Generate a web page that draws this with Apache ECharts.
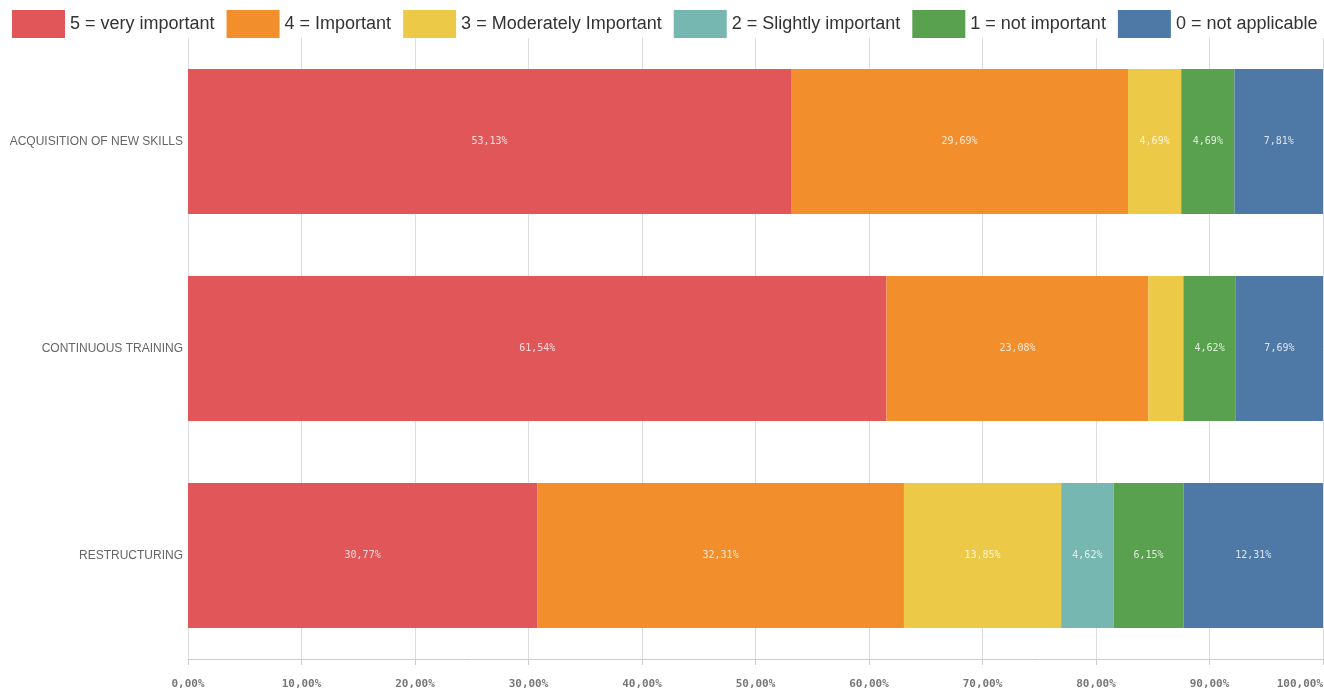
<!DOCTYPE html>
<html><head><meta charset="utf-8">
<script src="https://cdn.jsdelivr.net/npm/echarts@6/dist/echarts.min.js"></script>
<style>html,body{margin:0;padding:0;background:#fff}#c{width:1324px;height:692px}</style>
</head><body><div id="c"></div>
<script>
const categories = ['ACQUISITION OF NEW SKILLS', 'CONTINUOUS TRAINING', 'RESTRUCTURING'];
const seriesNames = ['5 = very important', '4 = Important', '3 = Moderately Important', '2 = Slightly important', '1 = not important', '0 = not applicable'];
const s5 = [53.13, 61.54, 30.77];
const s4 = [29.69, 23.08, 32.31];
const s3 = [4.69, 3.08, 13.85];
const s2 = [0, 0, 4.62];
const s1 = [4.69, 4.62, 6.15];
const s0 = [7.81, 7.69, 12.31];
const xTicks = [0, 10, 20, 30, 40, 50, 60, 70, 80, 90, 100];
const colors = ['#e15759', '#f28e2b', '#edc948', '#76b7b2', '#59a14f', '#4e79a7'];
const allData = [s5, s4, s3, s2, s1, s0];

const fmt = v => v.toFixed(2).replace('.', ',') + '%';
const chart = echarts.init(document.getElementById('c'));
chart.setOption({
  animation: false,
  color: colors,
  legend: {
    top: 10, left: 12, width: 1312, padding: 0, itemWidth: 53, itemHeight: 28, itemGap: 12,
    icon: 'rect',
    textStyle: { fontSize: 18, color: '#333', fontFamily: 'Liberation Sans, Arial' },
    data: seriesNames
  },
  grid: { left: 188, right: 1, top: 38, bottom: 33, containLabel: false, outerBoundsMode: 'none' },
  xAxis: {
    type: 'value', min: xTicks[0], max: xTicks[xTicks.length - 1], interval: 10,
    axisLine: { show: true, lineStyle: { color: '#cccccc' } },
    axisTick: { show: true, length: 6, lineStyle: { color: '#cccccc' } },
    splitLine: { show: true, lineStyle: { color: '#dddddd' } },
    axisLabel: { formatter: v => fmt(v), color: '#777', fontSize: 11, fontFamily: 'DejaVu Sans Mono', margin: 20, fontWeight: 'bold', alignMaxLabel: 'right', hideOverlap: false }
  },
  yAxis: {
    type: 'category', data: categories, inverse: true,
    axisLine: { show: false }, axisTick: { show: false },
    axisLabel: { color: '#666', fontSize: 12, margin: 5, fontFamily: 'Liberation Sans, Arial' }
  },
  series: seriesNames.map((n, i) => ({
    name: n, type: 'bar', stack: 'all', barCategoryGap: '30%',
    data: allData[i],
    label: {
      show: true, position: 'inside',
      formatter: p => p.value >= 4 ? fmt(p.value) : '',
      color: 'rgba(255,255,255,0.8)', fontSize: 10, fontFamily: 'DejaVu Sans Mono'
    }
  }))
});
</script></body></html>
